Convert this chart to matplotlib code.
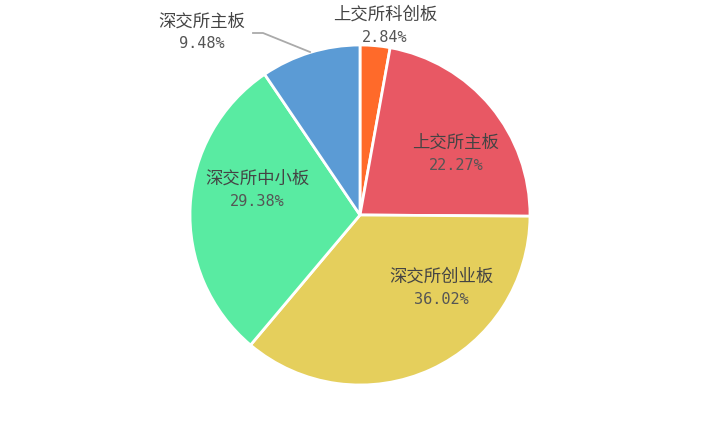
import matplotlib
matplotlib.use("Agg")
import matplotlib.pyplot as plt

plt.rcParams['font.family'] = ['Noto Sans CJK SC', 'DejaVu Sans']

# 数据
boards = ['上交所科创板', '上交所主板', '深交所创业板', '深交所中小板', '深交所主板']
shares = [2.84, 22.27, 36.02, 29.38, 9.48]
colors = ['#FF6A2A', '#E85864', '#E5CF5C', '#59EBA2', '#5B9BD5']

# 标签位置 (像素, 从左上角)
label_pos = {
    '上交所科创板': (385, 15),
    '上交所主板': (456, 143),
    '深交所创业板': (441, 277),
    '深交所中小板': (257, 179),
    '深交所主板': (202, 22),
}
W, H = 720, 432

fig = plt.figure(figsize=(7.2, 4.32), dpi=100)
ax = fig.add_axes([0, 0, 1, 1])

wedges, _ = ax.pie(shares, colors=colors, startangle=90, counterclock=False,
                   center=(360, H - 215), radius=170,
                   wedgeprops=dict(edgecolor='white', linewidth=2))

ax.set_xlim(0, W)
ax.set_ylim(0, H)
ax.set_aspect('equal')
ax.axis('off')

for name, val in zip(boards, shares):
    x, y = label_pos[name]
    ax.text(x, H - y, name, ha='center', va='center', fontsize=12.5, color='#444444')
    ax.text(x, H - y - 22, f'{val:.2f}%', ha='center', va='center', fontsize=11,
            color='#555555', family='DejaVu Sans Mono')

# 深交所主板引导线
ax.plot([310, 263, 253], [H - 52, H - 33, H - 33], color='#aaaaaa', lw=1.3)

plt.savefig('out.png', dpi=100)
